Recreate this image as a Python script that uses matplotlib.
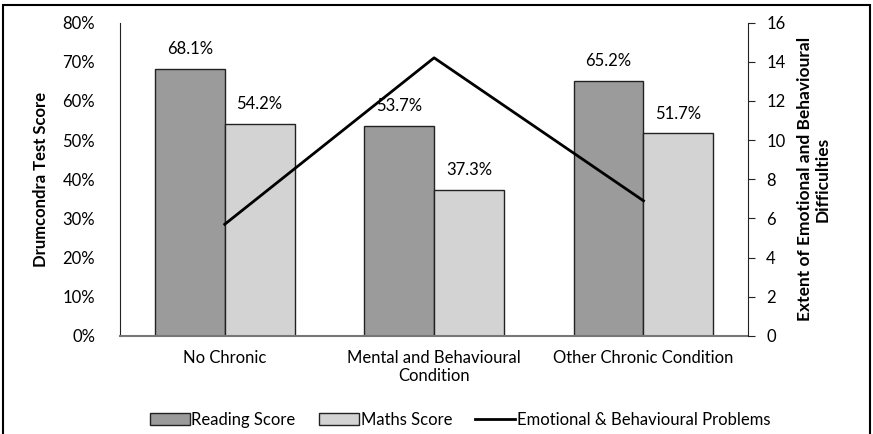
import matplotlib
matplotlib.use('Agg')
import matplotlib.pyplot as plt
from matplotlib.patches import Rectangle
import numpy as np

plt.rcParams['font.family'] = ['Lato', 'DejaVu Sans']

categories = ['No Chronic', 'Mental and Behavioural\nCondition', 'Other Chronic Condition']
reading = [68.1, 53.7, 65.2]
maths = [54.2, 37.3, 51.7]
difficulties = [5.7, 14.2, 6.9]
left_ticks = [0, 10, 20, 30, 40, 50, 60, 70, 80]
right_ticks = [0, 2, 4, 6, 8, 10, 12, 14, 16]

fig = plt.figure(figsize=(8.73, 4.34), dpi=100)
ax = fig.add_axes([0.1375, 0.226, 0.7195, 0.722])

x = np.arange(len(categories))
w = 1 / 3
b1 = ax.bar(x - w / 2, reading, w, color='#9b9b9b', edgecolor='#222222', linewidth=1.0, label='Reading Score')
b2 = ax.bar(x + w / 2, maths, w, color='#d3d3d3', edgecolor='#222222', linewidth=1.0, label='Maths Score')
for bars, vals in ((b1, reading), (b2, maths)):
    for r, v in zip(bars, vals):
        ax.text(r.get_x() + r.get_width() / 2, v + 3.0, f'{v:.1f}%', ha='center', va='bottom', fontsize=12)

ax.set_xlim(-0.5, 2.5)
ax.set_ylim(0, 80)
ax.set_yticks(left_ticks)
ax.set_yticklabels([f'{t}%' for t in left_ticks], fontsize=12)
ax.tick_params(axis='y', length=0, pad=18)
ax.set_xticks(x)
ax.set_xticklabels(categories, fontsize=12, linespacing=1.15)
ax.tick_params(axis='x', length=0, pad=10)
ax.spines['top'].set_visible(False)
ax.spines['right'].set_visible(False)
ax.spines['bottom'].set_color('#777777')
ax.spines['bottom'].set_linewidth(1.5)
ax.spines['left'].set_color('#222222')
ax.set_ylabel('Drumcondra Test Score', fontsize=12, fontweight='bold', labelpad=10)

ax2 = ax.twinx()
ln, = ax2.plot(x, difficulties, color='black', linewidth=2, label='Emotional & Behavioural Problems')
ax2.set_ylim(0, 16)
ax2.set_yticks(right_ticks)
ax2.set_yticklabels([str(t) for t in right_ticks], fontsize=12)
ax2.tick_params(axis='y', length=5, pad=8, color='#222222')
for s in ('top', 'left', 'bottom'):
    ax2.spines[s].set_visible(False)
ax2.spines['right'].set_color('#222222')
ax2.set_ylabel('Extent of Emotional and Behavioural\nDifficulties', fontsize=12.5, fontweight='bold',
               labelpad=8, linespacing=1.15)

fig.legend(handles=[b1, b2, ln], loc='center', bbox_to_anchor=(0.527, 0.032), ncol=3, frameon=False,
           fontsize=12, handlelength=2.4, handletextpad=0.1, columnspacing=1.4)

fig.patches.append(Rectangle((0.004, -0.01), 0.992, 0.998, transform=fig.transFigure, fill=False,
                             edgecolor='black', linewidth=1.5))

fig.savefig('out.png', dpi=100)
